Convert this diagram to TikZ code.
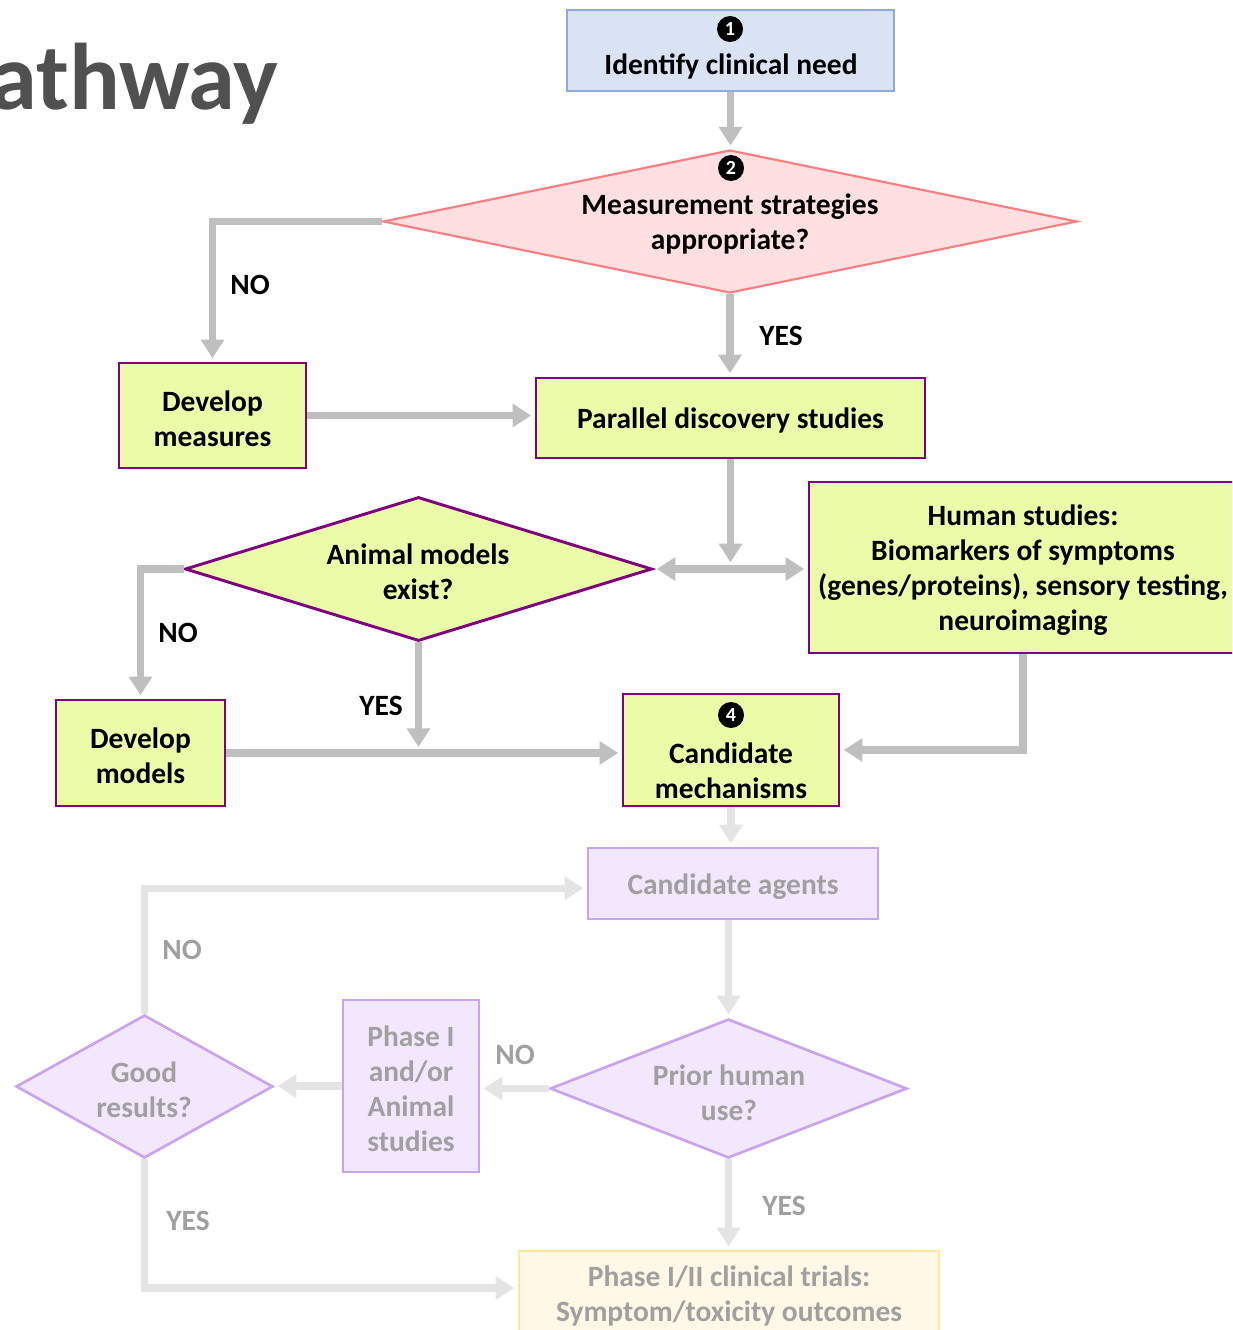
\documentclass[tikz,border=0pt]{standalone}
\usepackage{fontspec}
\setmainfont{Carlito}
\usetikzlibrary{arrows.meta,shapes.geometric}
\definecolor{cgray}{HTML}{BFBFBF}
\definecolor{fgray}{HTML}{E4E4E4}
\definecolor{ftext}{HTML}{A0A0A0}
\definecolor{bluefill}{HTML}{DAE3F3}
\definecolor{blueline}{HTML}{8FAADC}
\definecolor{pinkfill}{HTML}{FFDFDF}
\definecolor{pinkline}{HTML}{FF7C80}
\definecolor{greenfill}{HTML}{EBFCA9}
\definecolor{purpline}{HTML}{800080}
\definecolor{lpfill}{HTML}{F3E7FD}
\definecolor{lpline}{HTML}{C9A3EF}
\definecolor{creamfill}{HTML}{FFF8E6}
\definecolor{creamline}{HTML}{FFE699}
\definecolor{titlegray}{HTML}{505050}
\tikzset{
  txt/.style={font=\bfseries\fontsize{22.1}{26.25}\selectfont, align=center, inner sep=0pt},
  ftxt/.style={txt, text=ftext},
  greenbox/.style={draw=purpline, fill=greenfill, line width=2.2pt, rectangle, inner sep=0pt},
  lpbox/.style={draw=lpline, fill=lpfill, line width=2pt, rectangle, inner sep=0pt},
  dia/.style={diamond, inner sep=0pt},
  numc/.style={circle, fill=black, text=white, minimum size=19.5pt, inner sep=0pt, font=\bfseries\fontsize{15}{15}\selectfont},
  conn/.style={draw=cgray, line width=5.5pt, -{Triangle[width=17pt,length=14pt]}, shorten >=2.5pt},
  fconn/.style={conn, draw=fgray},
  lbl/.style={txt},
  flbl/.style={ftxt}
}
\begin{document}
\begin{tikzpicture}[x=0.75pt,y=-0.75pt]
\useasboundingbox (0,0) rectangle (1232,1330);
\clip (0,0) rectangle (1232,1330);

% title
\node[anchor=base west, inner sep=0pt, text=titlegray, font=\bfseries\fontsize{71}{71}\selectfont] (title) at (-10,110) {athway};

% step 1
\node[draw=blueline, fill=bluefill, line width=1.6pt, rectangle, minimum width=327*0.75pt, minimum height=81*0.75pt] (b1) at (730.5,50.5) {};
\node[numc] (n1) at (730,29) {1};
\node[txt] (t1) at (731,66) {Identify clinical need};

% diamond 2
\node[dia, draw=pinkline, fill=pinkfill, line width=1.6pt, minimum width=694*0.75pt, minimum height=143*0.75pt] (d2) at (730,221.5) {};
\node[numc] (n2) at (731,168) {2};
\node[txt] (t2) at (730,224) {Measurement strategies\\appropriate?};

% develop measures
\node[greenbox, minimum width=187*0.75pt, minimum height=105*0.75pt] (dm) at (212.5,415.5) {};
\node[txt] (dmt) at (212.5,418.5) {Develop\\measures};
% parallel discovery
\node[greenbox, minimum width=389*0.75pt, minimum height=80*0.75pt] (pd) at (730.5,418) {};
\node[txt] (pdt) at (730.5,420.5) {Parallel discovery studies};

% animal models diamond
\node[dia, draw=purpline, fill=greenfill, line width=2.2pt, minimum width=467*0.75pt, minimum height=144*0.75pt] (ad) at (418.5,569) {};
\node[txt] (at) at (418,572) {Animal models\\exist?};

% human studies
\node[greenbox, minimum width=428*0.75pt, minimum height=171*0.75pt] (hs) at (1023,567.5) {};
\node[txt] (hst) at (1023,570.5) {Human studies:\\Biomarkers of symptoms\\(genes/proteins), sensory testing,\\neuroimaging};

% develop models
\node[greenbox, minimum width=169*0.75pt, minimum height=106*0.75pt] (dmod) at (140.5,753) {};
\node[txt] (dmodt) at (140.5,756) {Develop\\models};

% candidate mechanisms
\node[greenbox, minimum width=216*0.75pt, minimum height=112*0.75pt] (cm) at (731,750) {};
\node[numc] (n4) at (731,715) {4};
\node[txt] (cmt) at (731,771) {Candidate\\mechanisms};

% faded part
\node[lpbox, minimum width=290*0.75pt, minimum height=71*0.75pt] (ca) at (733,883.5) {};
\node[ftxt] (cat) at (733,887) {Candidate agents};
\node[dia, draw=lpline, fill=lpfill, line width=2pt, minimum width=357*0.75pt, minimum height=139*0.75pt] (pu) at (728.5,1088.5) {};
\node[ftxt] (put) at (729,1092.5) {Prior human\\use?};
\node[lpbox, minimum width=136*0.75pt, minimum height=172*0.75pt] (ph) at (411,1086) {};
\node[ftxt] (pht) at (411,1089) {Phase I\\and/or\\Animal\\studies};
\node[dia, draw=lpline, fill=lpfill, line width=2pt, minimum width=257*0.75pt, minimum height=143*0.75pt] (gr) at (144.5,1086.5) {};
\node[ftxt] (grt) at (144,1090) {Good\\results?};
\node[draw=creamline, fill=creamfill, line width=2pt, rectangle, inner sep=0pt, minimum width=420*0.75pt, minimum height=84*0.75pt] (p12) at (729,1293) {};
\node[ftxt] (p12t) at (729,1296) {Phase I/II clinical trials:\\Symptom/toxicity outcomes};

% connectors
\draw[conn] (b1.south) -- (b1.south |- d2.north);
\draw[conn] (d2.west) -| (dm.north);
\draw[conn] (d2.south) -- (d2.south |- pd.north);
\draw[conn] (dm.east) -- (dm.east -| pd.west);
\coordinate (hub) at (pd.south |- ad.east);
\draw[conn, shorten >=2.5pt] (pd.south) -- ([yshift=2.5pt]hub);
\draw[conn, {Triangle[width=17pt,length=14pt]}-{Triangle[width=17pt,length=14pt]}, shorten <=2.5pt] (ad.east) -- (ad.east -| hs.west);
\draw[conn] (ad.west) -| (dmod.north);
\coordinate (yj) at (ad.south |- dmod.east);
\draw[conn, shorten >=2pt] (ad.south) -- ([yshift=2.5pt]yj);
\draw[conn] (dmod.east) -- (dmod.east -| cm.west);
\draw[conn] (hs.south) |- (cm.east);

\draw[fconn] (cm.south) -- (cm.south |- ca.north);
\draw[fconn] (pu.north |- ca.south) -- (pu.north);
\draw[fconn] (pu.west) -- (pu.west -| ph.east);
\draw[fconn] (ph.west) -- (ph.west -| gr.east);
\draw[fconn] (gr.north) |- ([yshift=-3.5pt]ca.west);
\draw[fconn] (gr.south) |- ([yshift=3.75pt]p12.west);
\draw[fconn] (pu.south) -- (pu.south |- p12.north);

% labels
\node[lbl] (l1) at (250,285) {NO};
\node[lbl] (l2) at (781,336) {YES};
\node[lbl] (l3) at (178,633) {NO};
\node[lbl] (l4) at (381,706) {YES};
\node[flbl] (l5) at (182,950) {NO};
\node[flbl] (l6) at (515,1055) {NO};
\node[flbl] (l7) at (188,1221) {YES};
\node[flbl] (l8) at (784,1206) {YES};
\end{tikzpicture}
\end{document}
